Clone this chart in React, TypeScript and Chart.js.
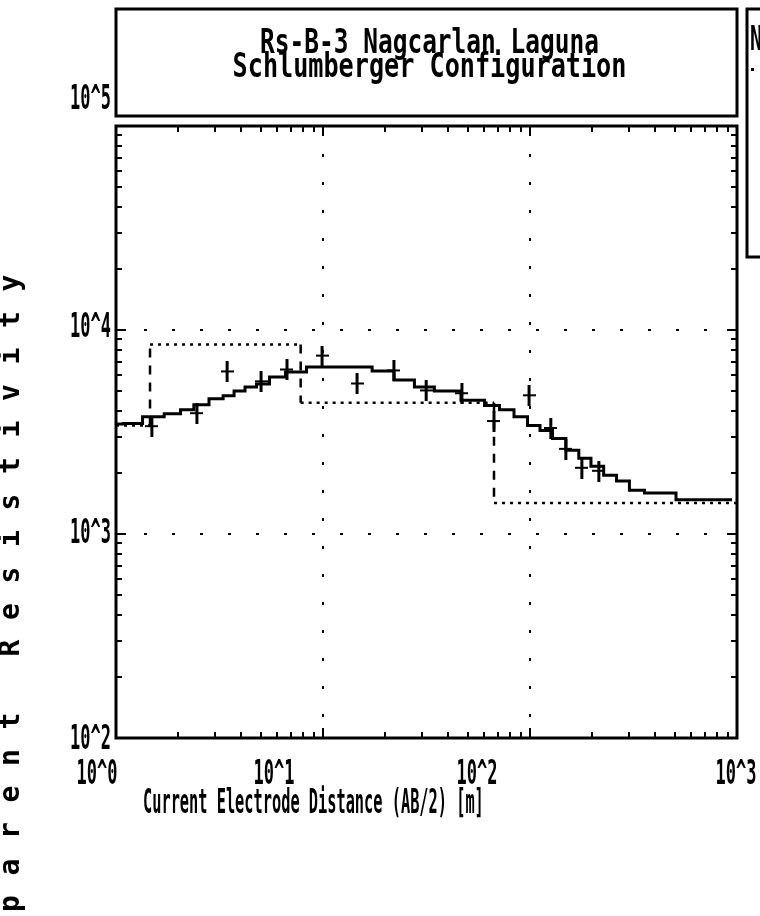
import { useEffect, useRef } from "react";
import { Chart, registerables } from "chart.js";

Chart.register(...registerables);

// ---- text ----
const TITLE_LINES = ["Rs-B-3 Nagcarlan Laguna", "Schlumberger Configuration"];
const X_AXIS_TITLE = "Current Electrode Distance (AB/2) [m]";
const Y_AXIS_TITLE = "Apparent Resistivity";
const X_TICK_VALUES = [1, 10, 100, 1000];
const X_TICK_LABELS = ["10^0", "10^1", "10^2", "10^3"];
const Y_TICK_VALUES = [100, 1000, 10000, 100000];
const Y_TICK_LABELS = ["10^2", "10^3", "10^4", "10^5"];

// ---- field measurements (AB/2 in m, apparent resistivity in ohm-m) ----
const obsSpacing = [1.49, 2.46, 3.44, 5.02, 6.7, 9.89, 14.6, 22, 31.5, 46.9, 67, 98.9, 126, 149, 178, 215];
const obsRho = [3360, 3890, 6230, 5570, 6370, 7450, 5440, 6300, 5030, 4870, 3560, 4760, 3290, 2600, 2100, 2030];

// ---- computed sounding curve of the fitted model ----
const calcSpacing = [
  1.0, 1.18, 1.53, 1.91, 2.2, 2.57, 3.08, 3.52, 3.93, 4.49, 5.07, 6.0, 7.24, 9.56, 15.3, 19.5, 24.9,
  30.7, 38.8, 55.5, 65.5, 77.4, 90.5, 104.5, 119.5, 138, 161, 184, 211, 244, 281, 325, 393, 655, 946,
];
const calcRho = [
  3460, 3480, 3760, 3890, 4070, 4300, 4600, 4760, 5030, 5260, 5440, 5890, 6230, 6590, 6590, 6300, 5690,
  5260, 5030, 4520, 4260, 4070, 3760, 3400, 3220, 2940, 2570, 2350, 2150, 1940, 1820, 1640, 1590, 1470, 1470,
];

// ---- layered earth model ----
const layerRho = [3400, 8500, 4400, 1420];
const layerBottom = [1.46, 7.8, 67]; // AB/2 where each layer ends

const X_MIN = 1;
const X_MAX = 1000;
const Y_MIN = 100;
const Y_MAX = 100000;

// label placement (pixels) used by the lettering plugin
const X_LABEL_SHIFT = [-19, -49, -53, -1];
const Y_LABEL_SHIFT = [2, 0, -2, -26];

type Pt = { x: number; y: number | null };

function layerHorizontals(): Pt[] {
  const pts: Pt[] = [];
  const edges = [X_MIN, ...layerBottom, X_MAX];
  layerRho.forEach((rho, i) => {
    pts.push({ x: edges[i], y: rho }, { x: edges[i + 1], y: rho });
    if (i < layerRho.length - 1) pts.push({ x: edges[i + 1], y: null });
  });
  return pts;
}

function layerVerticals(): Pt[] {
  const pts: Pt[] = [];
  layerBottom.forEach((b, i) => {
    pts.push({ x: b, y: layerRho[i] }, { x: b, y: layerRho[i + 1] });
    if (i < layerBottom.length - 1) pts.push({ x: b, y: null });
  });
  return pts;
}

function makeCross(): HTMLCanvasElement {
  const c = document.createElement("canvas");
  c.width = 13;
  c.height = 21;
  const g = c.getContext("2d")!;
  g.fillStyle = "#000";
  g.fillRect(5, 0, 3, 21);
  g.fillRect(0, 9, 13, 2);
  return c;
}

const FONT = '"DejaVu Sans Mono", monospace';

function plotText(
  ctx: CanvasRenderingContext2D,
  text: string,
  x: number,
  y: number,
  size: number,
  sx: number,
  align: CanvasTextAlign,
  baseline: CanvasTextBaseline = "alphabetic",
  weight = "normal"
) {
  ctx.save();
  ctx.translate(x, y);
  ctx.scale(sx, 1);
  ctx.font = `${weight} ${size}px ${FONT}`;
  ctx.textAlign = align;
  ctx.textBaseline = baseline;
  ctx.fillText(text, 0, 0);
  ctx.restore();
}

const isDecade = (v: number) => {
  const l = Math.log10(v);
  return Math.abs(l - Math.round(l)) < 1e-9;
};

// Frame, inner tick marks, title box and all lettering
const plotterFrame = {
  id: "plotterFrame",
  afterDraw(chart: any) {
    const { ctx, chartArea: a, scales } = chart;
    const xs = scales.x;
    const ys = scales.y;
    ctx.save();
    ctx.strokeStyle = "#000";
    ctx.fillStyle = "#000";

    // inner tick marks on all four sides
    ctx.lineWidth = 2;
    ctx.beginPath();
    for (let d = 0; d < 3; d++) {
      for (let m = 1; m <= 9; m++) {
        const v = m * Math.pow(10, d);
        const px = Math.round(xs.getPixelForValue(v));
        const len = m === 1 ? 10 : 6;
        ctx.moveTo(px, a.bottom);
        ctx.lineTo(px, a.bottom - len);
        ctx.moveTo(px, a.top);
        ctx.lineTo(px, a.top + len);
      }
    }
    for (let d = 2; d < 5; d++) {
      for (let m = 1; m <= 9; m++) {
        const v = m * Math.pow(10, d);
        const py = Math.round(ys.getPixelForValue(v));
        const len = m === 1 ? 10 : 6;
        ctx.moveTo(a.left, py);
        ctx.lineTo(a.left + len, py);
        ctx.moveTo(a.right, py);
        ctx.lineTo(a.right - len, py);
      }
    }
    ctx.stroke();

    // plot frame
    ctx.lineWidth = 3;
    ctx.strokeRect(a.left, a.top, a.right - a.left, a.bottom - a.top);

    // title box
    ctx.strokeRect(a.left, 9, a.right - a.left, 107);
    const cx = (a.left + a.right) / 2 + 3;
    plotText(ctx, TITLE_LINES[0], cx, 53, 34, 0.72, "center", "alphabetic", "bold");
    plotText(ctx, TITLE_LINES[1], cx, 77, 34, 0.74, "center", "alphabetic", "bold");

    // side panel
    ctx.strokeRect(a.right + 10, 9, 40, 248);
    plotText(ctx, "N", a.right + 13, 50, 34, 0.6, "left", "alphabetic", "bold");
    ctx.fillRect(a.right + 14, 68, 3, 3);

    // tick labels
    X_TICK_VALUES.forEach((v, i) => {
      const px = xs.getPixelForValue(v) + X_LABEL_SHIFT[i];
      plotText(ctx, X_TICK_LABELS[i], px, a.bottom + 46, 34, 0.5, "center", "alphabetic", "bold");
    });
    Y_TICK_VALUES.forEach((v, i) => {
      const py = ys.getPixelForValue(v) + Y_LABEL_SHIFT[i];
      plotText(ctx, Y_TICK_LABELS[i], a.left - 5, py, 34, 0.5, "right", "middle", "bold");
    });

    // axis titles
    plotText(ctx, X_AXIS_TITLE, a.left + 27, a.bottom + 75, 34, 0.45, "left", "alphabetic", "bold");

    const chars = Y_AXIS_TITLE.split("");
    ctx.font = `bold 28px ${FONT}`;
    ctx.textAlign = "center";
    ctx.textBaseline = "middle";
    chars.forEach((ch, i) => {
      const cy = 283 + (chars.length - 1 - i) * 36.5;
      ctx.save();
      ctx.translate(12, cy);
      ctx.rotate(-Math.PI / 2);
      ctx.fillText(ch, 0, 0);
      ctx.restore();
    });

    ctx.restore();
  },
};

export default function App() {
  const canvasRef = useRef<HTMLCanvasElement | null>(null);

  useEffect(() => {
    const canvas = canvasRef.current;
    if (!canvas) return;
    const cross = makeCross();

    const chart = new Chart(canvas, {
      type: "line",
      data: {
        datasets: [
          {
            label: "Layered model",
            data: layerHorizontals(),
            borderColor: "#000",
            borderWidth: 2.5,
            borderDash: [3, 5],
            pointRadius: 0,
            spanGaps: false,
            order: 3,
          },
          {
            label: "Layer boundaries",
            data: layerVerticals(),
            borderColor: "#000",
            borderWidth: 2.5,
            borderDash: [9, 8],
            pointRadius: 0,
            spanGaps: false,
            order: 3,
          },
          {
            label: "Computed",
            data: calcSpacing.map((x, i) => ({ x, y: calcRho[i] })),
            borderColor: "#000",
            borderWidth: 3,
            stepped: "middle",
            pointRadius: 0,
            order: 2,
          },
          {
            label: "Measured",
            data: obsSpacing.map((x, i) => ({ x, y: obsRho[i] })),
            showLine: false,
            pointStyle: cross,
            pointRadius: 8,
            order: 1,
          },
        ],
      },
      options: {
        responsive: false,
        animation: false,
        devicePixelRatio: 1,
        layout: { padding: { left: 116, top: 126, right: 23, bottom: 178 } },
        plugins: {
          legend: { display: false },
          tooltip: { enabled: false },
          title: { display: false },
        },
        scales: {
          x: {
            type: "logarithmic",
            min: X_MIN,
            max: X_MAX,
            ticks: { display: false },
            border: { display: false, dash: [3, 25] },
            grid: {
              drawTicks: false,
              lineWidth: 2,
              color: (c: any) =>
                c.tick && isDecade(c.tick.value) && c.tick.value > X_MIN && c.tick.value < X_MAX
                  ? "#000"
                  : "rgba(0,0,0,0)",
            },
            afterFit: (s: any) => {
              s.height = 0;
            },
          },
          y: {
            type: "logarithmic",
            min: Y_MIN,
            max: Y_MAX,
            ticks: { display: false },
            border: { display: false, dash: [3, 25] },
            grid: {
              drawTicks: false,
              lineWidth: 2,
              color: (c: any) =>
                c.tick && isDecade(c.tick.value) && c.tick.value > Y_MIN && c.tick.value < Y_MAX
                  ? "#000"
                  : "rgba(0,0,0,0)",
            },
            afterFit: (s: any) => {
              s.width = 0;
            },
          },
        },
      },
      plugins: [plotterFrame],
    });

    return () => chart.destroy();
  }, []);

  return (
    <div style={{ position: "fixed", left: 0, top: 0, width: 760, height: 916, background: "#fff", overflow: "hidden" }}>
      <canvas ref={canvasRef} width={760} height={916} style={{ display: "block" }} />
    </div>
  );
}
